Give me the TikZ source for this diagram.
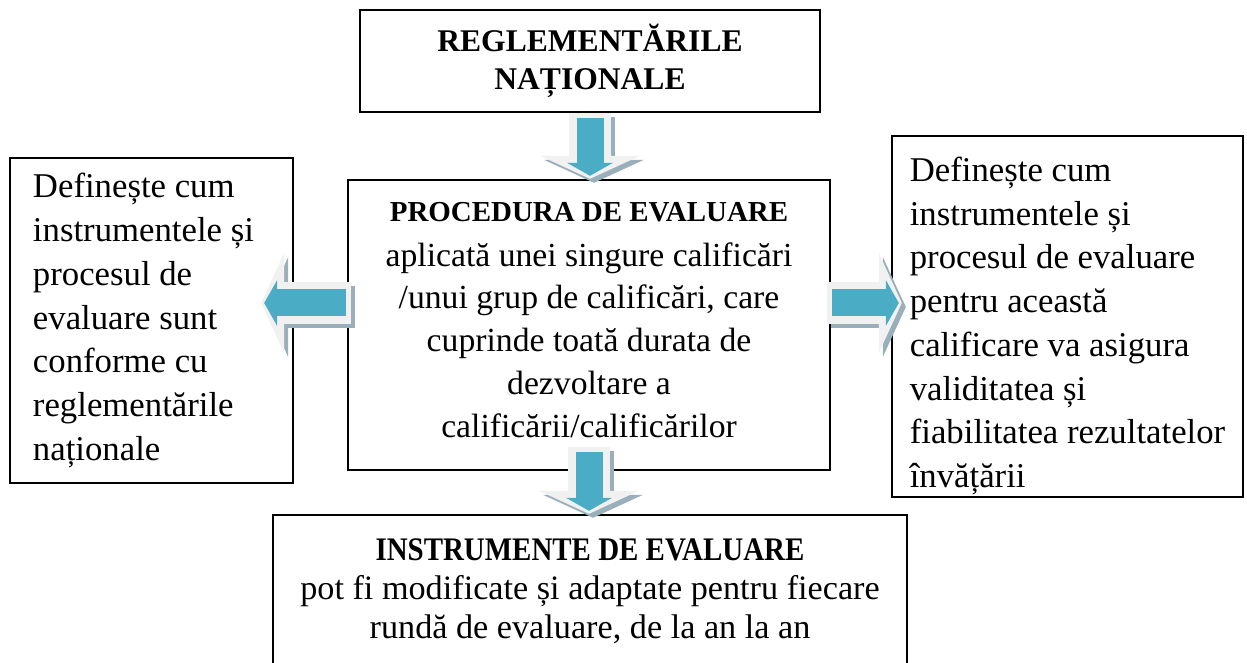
\documentclass[tikz,border=0pt]{standalone}
\usepackage{fontspec}
\setmainfont{Liberation Serif}
\newfontfamily\narrowserif[FakeStretch=0.88]{Liberation Serif}
\usetikzlibrary{arrows.meta,calc}

\newlength{\du}
\setlength{\du}{0.38pt}

\definecolor{arrowblue}{rgb}{0.294, 0.675, 0.776}
\definecolor{rimgrey}{rgb}{0.945, 0.945, 0.945}
\definecolor{shadegrey}{rgb}{0.600, 0.690, 0.730}

% arrow tip sizes in pt (23, 100, 13 and 46 \du)
\tikzset{
  box/.style={draw=black, line width=2.4\du, fill=white, inner ysep=0pt},
  sidebox/.style={box, align=flush left, inner xsep=23\du,
    font=\fontsize{13.2}{16.6}\selectfont},
  arrowshade/.style={line width=42\du, draw=shadegrey,
    transform canvas={shift={(4\du,-4\du)}},
    -{Triangle[length=8.74pt, width=38pt, line width=0pt]}},
  arrowrim/.style={line width=42\du, draw=rimgrey,
    -{Triangle[length=8.74pt, width=38pt, line width=0pt]}},
  arrowcore/.style={line width=27\du, draw=arrowblue,
    shorten <=5\du, shorten >=3\du,
    -{Triangle[length=4.94pt, width=17.48pt, line width=0pt]}}
}

\newcommand{\blockarrow}[2]{%
  \draw[arrowshade] (#1) -- (#2);
  \draw[arrowrim] (#1) -- (#2);
  \draw[arrowcore] (#1) -- (#2);
}

\begin{document}
\begin{tikzpicture}
\fill[white] (0,0) rectangle (1247\du,-663\du);
\useasboundingbox (0,0) rectangle (1247\du,-663\du);

% boxes
\node[box, minimum width=460\du, minimum height=102\du, align=center,
  font=\fontsize{12}{14.4}\selectfont\bfseries] (regl) at (590\du,-61\du)
  {REGLEMENTĂRILE\\NAȚIONALE};

\node[box, minimum width=482\du, minimum height=290\du, align=center,
  font=\fontsize{12.8}{16.3}\selectfont] (proc) at (589\du,-325\du)
  {{\bfseries\fontsize{11}{16.3}\selectfont PROCEDURA DE EVALUARE}\\[1.5\du]
   aplicată unei singure calificări\\
   /unui grup de calificări, care\\
   cuprinde toată durata de\\
   dezvoltare a\\
   calificării/calificărilor\\[-33\du]};

\node[sidebox, minimum width=283\du, minimum height=325\du, text width=237\du]
  (left) at (151.5\du,-320.5\du)
  {Definește cum\\
   instrumentele și\\
   procesul de\\
   evaluare sunt\\
   conforme cu\\
   reglementările\\
   naționale};

\node[sidebox, minimum width=351\du, minimum height=361\du, inner xsep=14\du]
  (right) at (1067.5\du,-316.5\du)
  {\rule{0pt}{16.5pt}Definește cum\\
   instrumentele și\\
   procesul de evaluare\\
   pentru această\\
   calificare va asigura\\
   validitatea și\\
   fiabilitatea rezultatelor\\
   învățării};

\node[box, minimum width=634\du, minimum height=153\du, align=center,
  font=\fontsize{13}{14.8}\selectfont] (instr) at (590\du,-591.5\du)
  {{\narrowserif\bfseries\fontsize{12.5}{14.8}\selectfont INSTRUMENTE DE EVALUARE}\\
   pot fi modificate și adaptate pentru fiecare\\
   rundă de evaluare, de la an la an};

% block arrows
\coordinate (ltail) at ([shift={(4\du,22\du)}]proc.west);
\coordinate (ltip) at ($(ltail -| left.east)+(-33\du,0)$);
\coordinate (rtail) at ([shift={(-4\du,22\du)}]proc.east);
\coordinate (rtip) at ($(rtail -| right.west)+(11\du,0)$);
\coordinate (dtail) at ($(proc.south)+(0,24\du)$);

\blockarrow{regl.south}{regl.south |- proc.north}
\blockarrow{ltail}{ltip}
\blockarrow{rtail}{rtip}
\blockarrow{dtail}{proc.south |- instr.north}
\end{tikzpicture}
\end{document}
